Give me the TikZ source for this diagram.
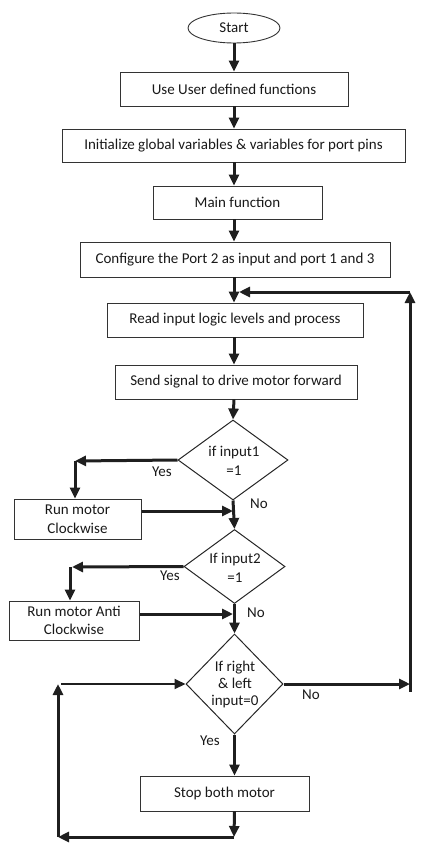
\documentclass[tikz,border=0pt]{standalone}
\usepackage{fontspec}
\setmainfont{Carlito}
\usetikzlibrary{shapes.geometric,arrows.meta}
\tikzset{
	box/.style={draw=black!80,line width=0.9pt,inner sep=0,align=center,text=black!90},
	dia/.style={draw=black!85,line width=1pt,diamond,inner sep=0},
	arr/.style={line width=3pt,draw=black!88,-{Triangle[length=11pt,width=10pt]}},
	lbl/.style={inner sep=0,text=black!90}
}
\begin{document}
\begin{tikzpicture}[x=1pt,y=-1pt,font=\fontsize{15}{18.5}\selectfont]
	\useasboundingbox (0,0) rectangle (446,853);
	% main column
	\node[box,ellipse,minimum width=92,minimum height=30] (start) at (234,28) {Start};
	\node[box,minimum width=228,minimum height=34] (usr) at (234,89) {Use User defined functions};
	\node[box,minimum width=343,minimum height=33] (glob) at (233.5,145.5) {Initialize global variables \& variables for port pins};
	\node[box,minimum width=169,minimum height=33] (mainf) at (237.5,202.5) {Main function};
	\node[box,minimum width=310,minimum height=35] (conf) at (235,259.5) {Configure the Port 2 as input and port 1 and 3};
	\node[box,minimum width=256,minimum height=34] (rd) at (235,320) {Read input logic levels and process};
	\node[box,minimum width=242,minimum height=34] (fwd) at (236,382) {Send signal to drive motor forward};
	\node[dia,minimum width=110,minimum height=80] (d1) at (233,460) {};
	\node[lbl,align=center] (d1txt) at (234,461) {if input1\\=1};
	\node[dia,minimum width=101,minimum height=74] (d2) at (234.5,566.5) {};
	\node[lbl,align=center] (d2txt) at (235,568) {If input2\\=1};
	\node[dia,minimum width=97,minimum height=100] (d3) at (234.5,684) {};
	\node[lbl,align=center,font=\fontsize{15}{17}\selectfont] (d3txt) at (235,684) {If right\\\& left\\input=0};
	\node[box,minimum width=169,minimum height=35] (stop) at (224.5,793.5) {Stop both motor};
	% side boxes
	\node[box,minimum width=127,minimum height=40] (cw) at (77.5,519) {Run motor\\Clockwise};
	\node[box,minimum width=130,minimum height=39] (acw) at (74,620.5) {Run motor Anti\\Clockwise};
	% corners
	\coordinate (y1) at (75,461);
	\coordinate (y2) at (72,567);
	\coordinate (y2a) at (70,567);
	\coordinate (cwo) at (142,511);
	\coordinate (acwo) at (140,614);
	\coordinate (r1) at (410,684);
	\coordinate (r2) at (410,292);
	\coordinate (j1) at (239,292);
	\coordinate (c1) at (234,837);
	\coordinate (c2) at (58,837);
	\coordinate (c3) at (58,684);
	\coordinate (c3a) at (61,684);
	% arrows down
	\draw[arr] (start) -- (start |- usr.north);
	\draw[arr] (usr) -- (usr |- glob.north);
	\draw[arr] (usr |- glob.south) -- (usr |- mainf.north);
	\draw[arr] (usr |- mainf.south) -- (usr |- conf.north);
	\draw[arr] (usr |- conf.south) -- (usr |- rd.north);
	\draw[arr] (usr |- rd.south) -- (usr |- fwd.north);
	\draw[arr] (usr |- fwd.south) -- (d1.north);
	\draw[arr] (d1.south) -- (d2.north);
	\draw[arr] (d2.south) -- (d3.north);
	\draw[arr] (d3.south) -- (d3.south |- stop.north);
	% yes branches
	\draw[arr] (d1.west) -- (y1);
	\draw[arr] (y1) -- (y1 |- cw.north);
	\draw[arr] (cwo) -- (d1.south |- cwo);
	\draw[arr] (d2.west) -- (y2);
	\draw[arr] (y2a) -- (y2a |- acw.north);
	\draw[arr] (acwo) -- (d1.south |- acwo);
	% loop back
	\draw[arr] (d3.east) -- (r1);
	\draw[line width=3pt,draw=black!88] (r1) -- ++(0,8);
	\draw[arr] (r1) -- (r2);
	\draw[arr] (r2) -- (j1);
	\draw[arr] (d3.south |- stop.south) -- (c1);
	\draw[arr] (c1) -- (c2);
	\draw[arr] (c2) -- (c3);
	\draw[arr,line width=2pt] (c3a) -- (d3.west);
	% labels
	\node[lbl] (yes1) at (162,472) {Yes};
	\node[lbl] (no1) at (259,504) {No};
	\node[lbl] (yes2) at (170,576) {Yes};
	\node[lbl] (no2) at (256,613) {No};
	\node[lbl] (no3) at (311,695) {No};
	\node[lbl] (yes3) at (210,741) {Yes};
\end{tikzpicture}
\end{document}
